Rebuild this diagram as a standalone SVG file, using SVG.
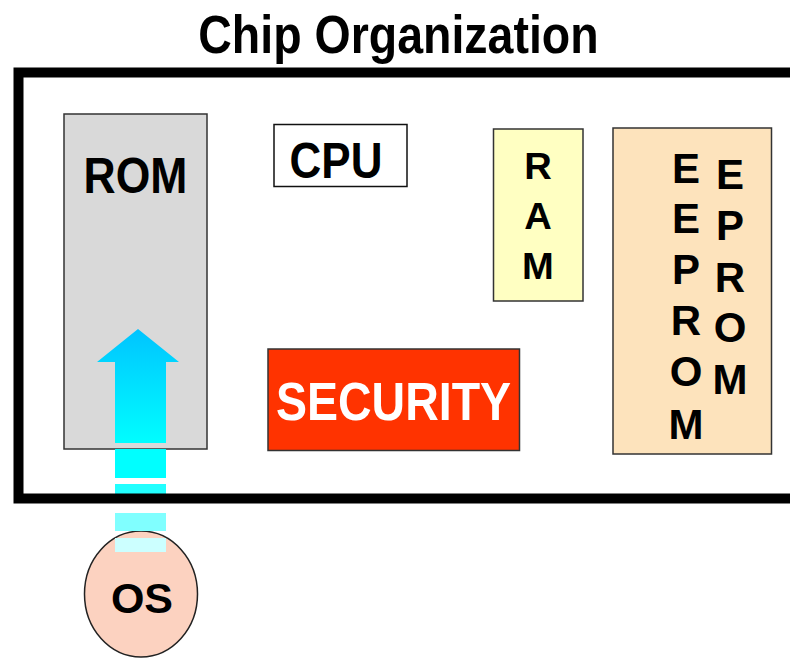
<svg xmlns="http://www.w3.org/2000/svg" width="790" height="658" viewBox="0 0 790 658">
<style>
text{font-family:"Liberation Sans",Arial,sans-serif;font-weight:bold;fill:#000;text-anchor:middle}
.box{stroke:#333;stroke-width:1.5}
.w{fill:#fff}
</style>
<defs>
<linearGradient id="ag" x1="0" y1="329" x2="0" y2="445" gradientUnits="userSpaceOnUse">
<stop offset="0" stop-color="#00c4ff"/>
<stop offset="1" stop-color="#00ffff"/>
</linearGradient>
</defs>
<rect width="790" height="658" fill="#fff"/>
<text x="398.5" y="0" font-size="46.5" transform="translate(0,53) scale(1,1.14)">Chip Organization</text>

<g id="rom">
<rect class="box" x="64" y="114" width="143" height="335" fill="#d9d9d9"/>
<text x="0" y="0" font-size="44.5" transform="translate(135.5,193) scale(1,1.13)">ROM</text>
</g>
<g id="cpu">
<rect x="274" y="124.5" width="133" height="62" fill="#fff" stroke="#111" stroke-width="1.5"/>
<text x="0" y="0" font-size="44" transform="translate(336,178) scale(1,1.12)">CPU</text>
</g>
<g id="ram">
<rect class="box" x="493.5" y="129" width="89.5" height="172" fill="#ffffc2"/>
<g transform="translate(538,0) scale(1.06,1)">
<text x="0" y="179" font-size="36">R</text>
<text x="0" y="229" font-size="36">A</text>
<text x="0" y="279" font-size="36">M</text>
</g>
</g>
<g id="eeprom">
<rect class="box" x="613" y="128" width="158.5" height="326" fill="#fde3bc"/>
<text x="686" y="183" font-size="42">E</text>
<text x="686" y="233" font-size="42">E</text>
<text x="686" y="284" font-size="42">P</text>
<text x="686" y="335" font-size="42">R</text>
<text x="686" y="386" font-size="42">O</text>
<text x="686" y="439" font-size="42">M</text>
<text x="730" y="189" font-size="42">E</text>
<text x="730" y="240" font-size="42">P</text>
<text x="730" y="292" font-size="42">R</text>
<text x="730" y="342" font-size="42">O</text>
<text x="730" y="394" font-size="42">M</text>
</g>
<g id="security">
<rect x="268" y="349" width="251.5" height="101.5" fill="#ff3300" stroke="#333" stroke-width="1.5"/>
<text class="w" x="0" y="0" font-size="46.5" transform="translate(393.5,420) scale(1,1.14)">SECURITY</text>
</g>
<g id="os">
<ellipse cx="141" cy="594" rx="56.5" ry="63" fill="#fcd2c0" stroke="#222" stroke-width="1.5"/>
<text x="142" y="613" font-size="43">OS</text>
</g>

<g id="connectors">
<polygon points="138,329 179,362 166,362 166,443 115,443 115,362 97,362" fill="url(#ag)"/>
<rect x="115" y="449" width="51" height="29" fill="#00ffff"/>
<rect x="115" y="484" width="51" height="12" fill="#22ffff"/>
<rect x="115" y="513" width="51" height="18" fill="#80ffff"/>
<rect x="115" y="538" width="51" height="14" fill="#ccffff"/>
</g>

<g id="chip">
<rect x="18.5" y="72.5" width="800" height="426" fill="none" stroke="#000" stroke-width="10"/>
</g>
</svg>
